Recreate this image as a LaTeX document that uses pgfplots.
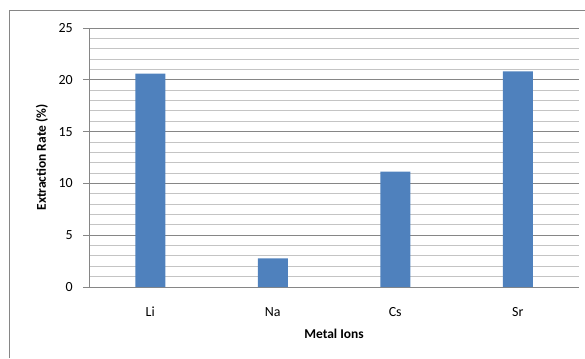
\documentclass[border=0pt]{standalone}
\usepackage{fontspec}
\setmainfont{Carlito}
\usepackage{pgfplots}
\pgfplotsset{compat=1.18}
\definecolor{barblue}{RGB}{79,129,189}
\definecolor{axgray}{RGB}{134,134,134}
\definecolor{mingray}{RGB}{196,196,196}
\begin{document}
\begin{tikzpicture}[x=1bp,y=1bp]
\useasboundingbox (0,0) rectangle (585,358);
\draw[axgray, line width=1bp] (9.5,0) -- (9.5,347.5) -- (585,347.5);
\begin{axis}[
  at={(89bp,71bp)}, anchor=south west,
  scale only axis, width=490bp, height=259bp,
  xmin=-0.5, xmax=3.5, ymin=0, ymax=25,
  axis x line*=bottom, axis y line*=left,
  axis line style={axgray, line width=1bp, -},
  xtick={0,1,2,3}, xticklabels={Li,Na,Cs,Sr},
  ytick={0,5,10,15,20,25},
  minor y tick num=4,
  ymajorgrids, yminorgrids,
  major grid style={axgray, line width=0.9bp},
  minor grid style={mingray, line width=0.9bp},
  tick align=outside,
  major tick length=6bp, minor tick length=0bp,
  x tick style={draw=none},
  y tick style={axgray, line width=1bp},
  /pgf/number format/assume math mode=true,
  tick label style={font=\fontsize{14}{16}\selectfont, text=black},
  yticklabel style={anchor=east, inner sep=0pt, xshift=-10bp},
  xticklabel style={anchor=north, inner sep=0pt, yshift=-14bp},
  xlabel={\textbf{Metal Ions}},
  ylabel={\textbf{Extraction Rate (\%)}},
  label style={font=\fontsize{13.5}{15}\selectfont},
  xlabel style={at={(axis description cs:0.5,-0.1815)}, anchor=center},
  ylabel style={at={(axis description cs:-0.0959,0.5)}, anchor=center},
]
\addplot[ybar, bar width=30bp, fill=barblue, draw=none] coordinates {(0,20.6) (1,2.77) (2,11.13) (3,20.82)};
\end{axis}
\end{tikzpicture}
\end{document}
